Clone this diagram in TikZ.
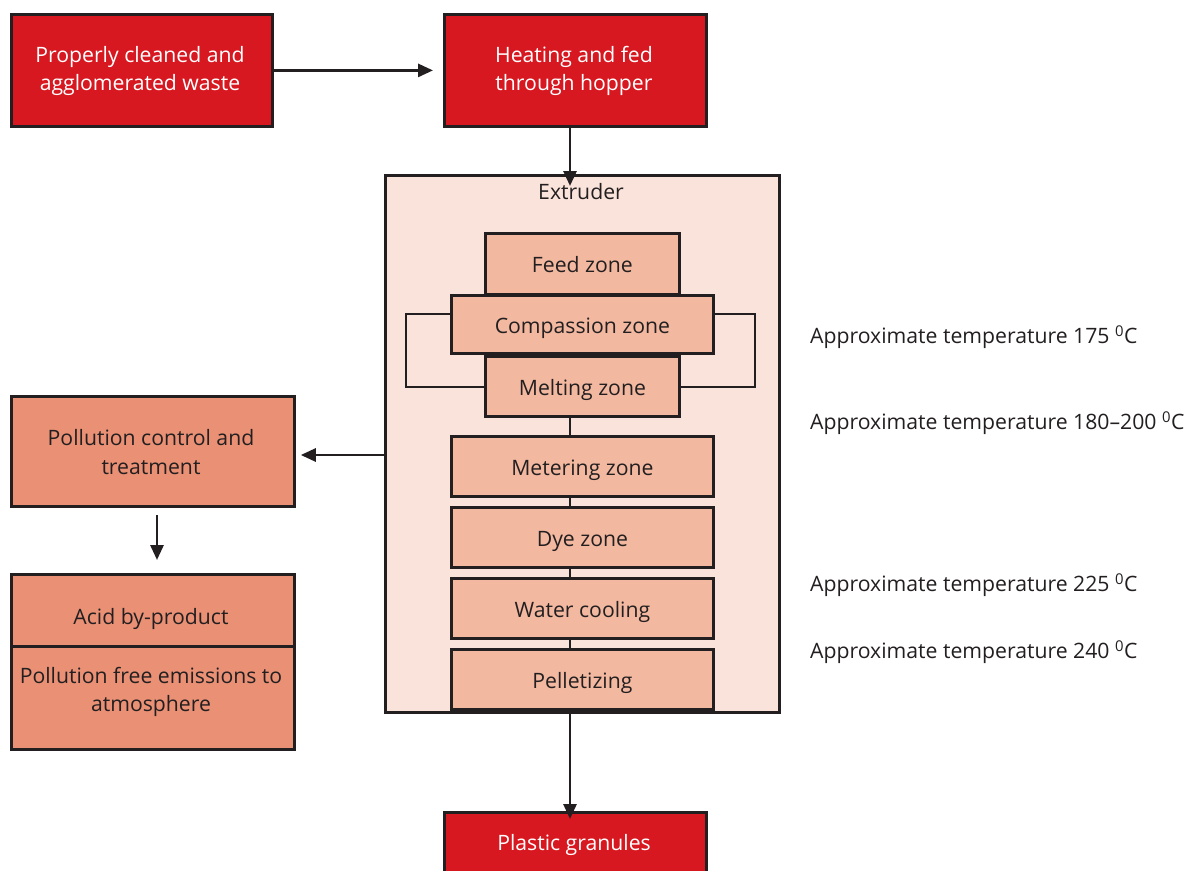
\documentclass[tikz,border=0pt]{standalone}
\usepackage{fontspec}
\setmainfont{Open Sans}
\usetikzlibrary{arrows.meta}
\definecolor{procred}{RGB}{215,24,32}
\definecolor{extfill}{RGB}{250,227,218}
\definecolor{zonefill}{RGB}{242,184,160}
\definecolor{polfill}{RGB}{233,144,117}
\definecolor{inkline}{RGB}{35,31,32}
\begin{document}
\begin{tikzpicture}[x=1pt,y=-1pt,
  font=\fontsize{21.2}{28.5}\selectfont,
  box/.style={draw=inkline,line width=2.8pt,inner sep=0pt,anchor=north west,align=center},
  redbox/.style={box,fill=procred,text=white},
  zonebox/.style={box,fill=zonefill,text=inkline,text height=22pt,text depth=4pt},
  polbox/.style={box,fill=polfill,text=inkline},
  boxtext/.style={inner sep=0pt,align=center,text=inkline},
  flow/.style={draw=inkline,line width=2.8pt,-{Triangle[length=15pt,width=13pt]}},
  plain/.style={draw=inkline,line width=2.8pt},
  temp/.style={anchor=west,text=inkline,inner sep=0pt}]
\useasboundingbox (0,0) rectangle (1190,870);

% top row
\node[redbox,minimum width=261pt,minimum height=112pt] (waste) at (10,13) {};
\node[boxtext,text=white] (wastetext) at (140,71) {Properly cleaned and\\agglomerated waste};
\node[redbox,minimum width=262pt,minimum height=112pt] (hopper) at (443,13) {};
\node[boxtext,text=white] (hoppertext) at (574,71) {Heating and fed\\through hopper};

% extruder casing
\node[box,fill=extfill,minimum width=394pt,minimum height=537pt] (extruder) at (384,174) {};
\node[text=inkline,inner sep=0pt] (extlabel) at (581,192) {Extruder};

% recirculation loop and spine behind the zones
\coordinate (loopNW) at (406,314);
\coordinate (loopSE) at (755,387);
\draw[plain] (loopNW) rectangle (loopSE);
\coordinate (spineTop) at (570,415);
\coordinate (spineBot) at (570,690);
\draw[plain] (spineTop) -- (spineBot);

% zones
\node[zonebox,minimum width=194pt,minimum height=61pt] (feed) at (484,232) {Feed zone};
\node[zonebox,minimum width=262pt,minimum height=58pt] (compass) at (450,294) {Compassion zone};
\node[zonebox,minimum width=194pt,minimum height=60pt] (melt) at (484,355) {Melting zone};
\node[zonebox,minimum width=262pt,minimum height=60pt] (meter) at (450,435) {Metering zone};
\node[zonebox,minimum width=262pt,minimum height=60pt] (dye) at (450,506) {Dye zone};
\node[zonebox,minimum width=262pt,minimum height=60pt] (cool) at (450,577) {Water cooling};
\node[zonebox,minimum width=262pt,minimum height=60pt] (pellet) at (450,648) {Pelletizing};

% output
\node[redbox,minimum width=262pt,minimum height=70pt] (granules) at (443,811) {};
\node[boxtext,text=white] (granlabel) at (574,845) {Plastic granules};

% pollution branch
\node[polbox,minimum width=283pt,minimum height=110pt] (pollution) at (10,395) {};
\node[boxtext] (pollutiontext) at (151,452) {Pollution control and\\treatment};
\node[polbox,minimum width=283pt,minimum height=72pt] (acid) at (10,573) {};
\node[boxtext] (acidtext) at (151,619) {Acid by-product};
\node[polbox,minimum width=283pt,minimum height=103pt] (emis) at (10,645) {};
\node[boxtext] (emistext) at (151,692) {Pollution free emissions to\\atmosphere};

% temperatures
\node[temp] (t1) at (810,337) {Approximate temperature 175 \textsuperscript{0}C};
\node[temp] (t2) at (810,423) {Approximate temperature 180--200 \textsuperscript{0}C};
\node[temp] (t3) at (810,585) {Approximate temperature 225 \textsuperscript{0}C};
\node[temp] (t4) at (810,652) {Approximate temperature 240 \textsuperscript{0}C};

% connectors
\coordinate (hopOut) at (570,125);
\draw[flow] (waste.east) -- ([xshift=-10pt]hopper.west);
\draw[flow] (hopOut) -- ([yshift=-12pt]extruder.north -| hopOut);
\draw[flow] (extruder.south -| spineBot) -- ([yshift=-8pt]granules.north -| spineBot);
\draw[flow] (extruder.west |- 0,455) -- ([xshift=5pt]pollution.east |- 0,455);
\coordinate (polOut) at (157,515);
\draw[flow] (polOut) -- (157,560);
\end{tikzpicture}
\end{document}
